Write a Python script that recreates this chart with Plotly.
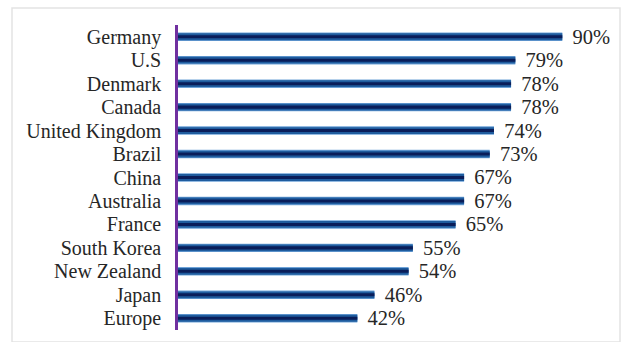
import plotly.graph_objects as go

countries = ["Germany", "U.S", "Denmark", "Canada", "United Kingdom", "Brazil", "China",
             "Australia", "France", "South Korea", "New Zealand", "Japan", "Europe"]
values = [90, 79, 78, 78, 74, 73, 67, 67, 65, 55, 54, 46, 42]
labels = [f"{v}%" for v in values]

font_family = "Liberation Serif, Times New Roman, serif"

fig = go.Figure()
layers = [(0.36, "#6FA3D8"), (0.29, "#1F5C9E"), (0.13, "#0A1E5A")]
for i, (w, c) in enumerate(layers):
    last = i == len(layers) - 1
    fig.add_trace(go.Bar(
        x=values, y=countries, orientation="h", width=w,
        marker=dict(color=c, line=dict(width=0)),
        text=["\u2002" + t for t in labels] if last else None,
        textposition="outside" if last else "none",
        constraintext="none",
        textfont=dict(family=font_family, size=20.5, color="#262626"),
        cliponaxis=False, hoverinfo="skip", showlegend=False,
    ))

fig.update_layout(
    width=621, height=342,
    margin=dict(l=178, r=16, t=25, b=12),
    barmode="overlay",
    paper_bgcolor="white", plot_bgcolor="white",
    xaxis=dict(range=[0, 100], visible=False, showgrid=False, zeroline=False),
    yaxis=dict(
        autorange="reversed", showgrid=False, zeroline=False,
        tickmode="array", tickvals=countries, ticktext=countries,
        showline=True, linecolor="#7030A0", linewidth=2.5,
        ticks="outside", ticklen=10, tickcolor="rgba(0,0,0,0)",
        tickfont=dict(family=font_family, size=20, color="#262626"),
    ),
    shapes=[dict(type="rect", xref="paper", yref="paper",
                 x0=-166/427, x1=(620-178)/427, y0=-12/305, y1=(305+25-8)/305,
                 line=dict(color="#E3E3E3", width=1.5), fillcolor="rgba(0,0,0,0)", layer="below")],
)

fig.write_html("out.html", config={"displayModeBar": False},
               post_script="document.body.style.margin='0';")
